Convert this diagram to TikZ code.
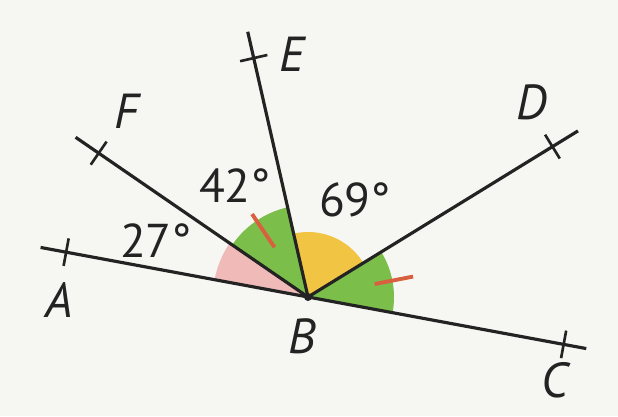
\documentclass[tikz,border=0pt]{standalone}
\usepackage{fontspec}
\setmainfont{PT Sans}
\usepackage{tikz}
\usetikzlibrary{calc}
\definecolor{paper}{RGB}{246,246,243}
\definecolor{ink}{RGB}{35,35,35}
\definecolor{pinkfill}{RGB}{240,186,184}
\definecolor{greenfill}{RGB}{124,190,74}
\definecolor{yellowfill}{RGB}{242,196,68}
\definecolor{tickred}{RGB}{216,96,62}

\begin{document}
\begin{tikzpicture}[
  x=0.02cm, y=0.02cm,
  ray/.style={line width=1.8pt, ink},
  crossbar/.style={line width=1.5pt, ink},
  wedge/.style={fill=#1, draw=none},
  redtick/.style={line width=2.2pt, tickred},
  pt/.style={font=\fontsize{28}{28}\selectfont\itshape, text=ink},
  deg/.style={font=\fontsize{27}{27}\selectfont, text=ink}
]
  \fill[paper] (-308,-119) rectangle (310,297);
  \coordinate (B) at (0,0);

  % coloured angles
  \fill[wedge=pinkfill]   (B) -- (169.5:95) arc[start angle=169.5, end angle=145.5, radius=95] -- cycle;
  \fill[wedge=greenfill]  (B) -- (145.5:92) arc[start angle=145.5, end angle=102.8, radius=92] -- cycle;
  \fill[wedge=yellowfill] (B) -- (102.8:65) arc[start angle=102.8, end angle=31.6, radius=65] -- cycle;
  \fill[wedge=greenfill]  (B) -- (31.6:86) arc[start angle=31.6, end angle=-10.5, radius=86] -- cycle;
  \draw[redtick] (124:60) -- (124:100);
  \draw[redtick] (11:68) -- (11:107);

  % rays and their ticks
  \foreach \p/\a/\r/\t in {A/169.5/272/246, C/-10.5/283/260, F/145.5/282/254, E/102.8/272/245, D/31.6/317/287}{
    \coordinate (\p-end) at (\a:\r);
    \coordinate (\p) at (\a:\t);
    \draw[crossbar] ($(\p)+({\a+90}:14)$) -- ($(\p)+({\a-90}:14)$);
  }
  \draw[ray] (A-end) -- (C-end);
  \foreach \p in {F,E,D}{
    \draw[ray] (B) -- (\p-end);
  }
  \fill[ink] (B) circle[radius=4];

  % labels
  \node[pt] (labA) at (-249,-3) {A};
  \node[pt] (labB) at (-6,-39) {B};
  \node[pt] (labC) at (247,-83) {C};
  \node[pt] (labD) at (224,195) {D};
  \node[pt] (labE) at (-16,243) {E};
  \node[pt] (labF) at (-181,186) {F};
  \node[deg] (ang1) at (-152,56) {27°};
  \node[deg] (ang2) at (-73,111) {42°};
  \node[deg] (ang3) at (47,97) {69°};
\end{tikzpicture}
\end{document}
